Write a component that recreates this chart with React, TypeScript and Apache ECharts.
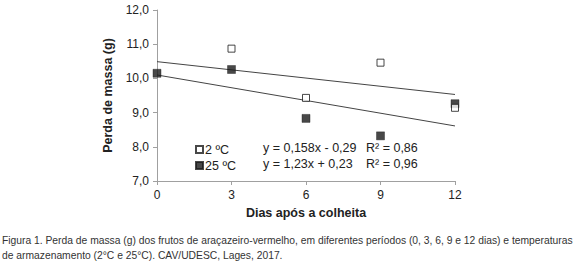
import React, { useEffect, useRef } from "react";
import * as echarts from "echarts";

const days = [0, 3, 6, 9, 12];
const mass2C = [10.15, 10.87, 9.43, 10.46, 9.14];
const mass25C = [10.15, 10.26, 8.83, 8.32, 9.26];
const trendX = [0, 12];
const trend2C = [10.49, 9.53];
const trend25C = [10.1, 8.61];
const seriesNames = ["2 ºC", "25 ºC"];
const equations = ["y = 0,158x - 0,29", "y = 1,23x + 0,23"];
const r2Labels = ["R² = 0,86", "R² = 0,96"];
const yTicks = { min: 7, max: 12, interval: 1 };
const xTicks = { min: 0, max: 12, interval: 3 };
const captionLines = [
  "Figura 1. Perda de massa (g) dos frutos de araçazeiro-vermelho, em diferentes períodos (0, 3, 6, 9 e 12 dias) e temperaturas",
  "de armazenamento (2°C e 25°C). CAV/UDESC, Lages, 2017.",
];

const FONT = "'Liberation Sans', Arial, sans-serif";

export default function App() {
  const ref = useRef<HTMLDivElement>(null);
  useEffect(() => {
    if (!ref.current) return;
    const chart = echarts.init(ref.current, undefined, { renderer: "svg" });
    const pairs = (xs: number[], ys: number[]) => xs.map((x, i) => [x, ys[i]]);
    chart.setOption({
      animation: false,
      backgroundColor: "#ffffff",
      grid: { left: 157, right: 125, top: 10, bottom: 81, containLabel: false },
      xAxis: {
        type: "value",
        min: xTicks.min,
        max: xTicks.max,
        interval: xTicks.interval,
        name: "Dias após a colheita",
        nameLocation: "middle",
        nameGap: 25,
        nameTextStyle: { fontFamily: FONT, fontSize: 12.5, fontWeight: "bold", color: "#222" },
        axisLine: { lineStyle: { color: "#a0a0a0", width: 1 } },
        axisTick: { show: true, length: 4, lineStyle: { color: "#a0a0a0" } },
        axisLabel: { fontFamily: FONT, fontSize: 12, color: "#222", margin: 8 },
        splitLine: { show: false },
      },
      yAxis: {
        type: "value",
        min: yTicks.min,
        max: yTicks.max,
        interval: yTicks.interval,
        name: "Perda de massa (g)",
        nameLocation: "middle",
        nameGap: 23,
        nameTextStyle: { fontFamily: FONT, fontSize: 12.5, fontWeight: "bold", color: "#222" },
        axisLine: { show: true, lineStyle: { color: "#a0a0a0", width: 1 } },
        axisTick: { show: true, length: 4, lineStyle: { color: "#a0a0a0" } },
        axisLabel: {
          fontFamily: FONT,
          fontSize: 12,
          color: "#222",
          margin: 8,
          formatter: (v: number) => v.toFixed(1).replace(".", ","),
        },
        splitLine: { show: false },
      },
      legend: {
        orient: "vertical",
        left: 190,
        top: 138,
        itemWidth: 7,
        itemHeight: 7,
        itemGap: 3,
        icon: "rect",
        data: seriesNames,
        textStyle: { fontFamily: FONT, fontSize: 12.5, color: "#222", padding: [0, 0, 0, -3] },
      },
      graphic: [
        ...equations.map((t, i) => ({
          type: "text",
          left: 263,
          top: 141 + i * 16.5,
          style: { text: t, font: `12.5px ${FONT}`, fill: "#222" },
        })),
        ...r2Labels.map((t, i) => ({
          type: "text",
          left: 366,
          top: 141 + i * 16.5,
          style: { text: t, font: `12.5px ${FONT}`, fill: "#222" },
        })),
        ...captionLines.map((t, i) => ({
          type: "text",
          left: 2,
          top: 235 + i * 15,
          style: { text: t, font: `10.3px ${FONT}`, fill: "#333" },
        })),
      ],
      series: [
        {
          name: "trend2",
          type: "line",
          data: pairs(trendX, trend2C),
          symbol: "none",
          lineStyle: { color: "#444", width: 1 },
          silent: true,
        },
        {
          name: "trend25",
          type: "line",
          data: pairs(trendX, trend25C),
          symbol: "none",
          lineStyle: { color: "#444", width: 1 },
          silent: true,
        },
        {
          name: seriesNames[1],
          type: "scatter",
          data: pairs(days, mass25C),
          symbol: "rect",
          symbolSize: 8,
          itemStyle: { color: "#1a1a1a", borderColor: "#1a1a1a", borderWidth: 0.5 },
          z: 3,
        },
        {
          name: seriesNames[0],
          type: "scatter",
          data: pairs(days, mass2C).slice(1),
          symbol: "rect",
          symbolSize: 7,
          itemStyle: { color: "#ffffff", borderColor: "#1a1a1a", borderWidth: 1 },
          z: 4,
        },
      ],
    });
    return () => chart.dispose();
  }, []);
  return <div ref={ref} style={{ width: 580, height: 262, position: "absolute", left: 0, top: 0 }} />;
}
